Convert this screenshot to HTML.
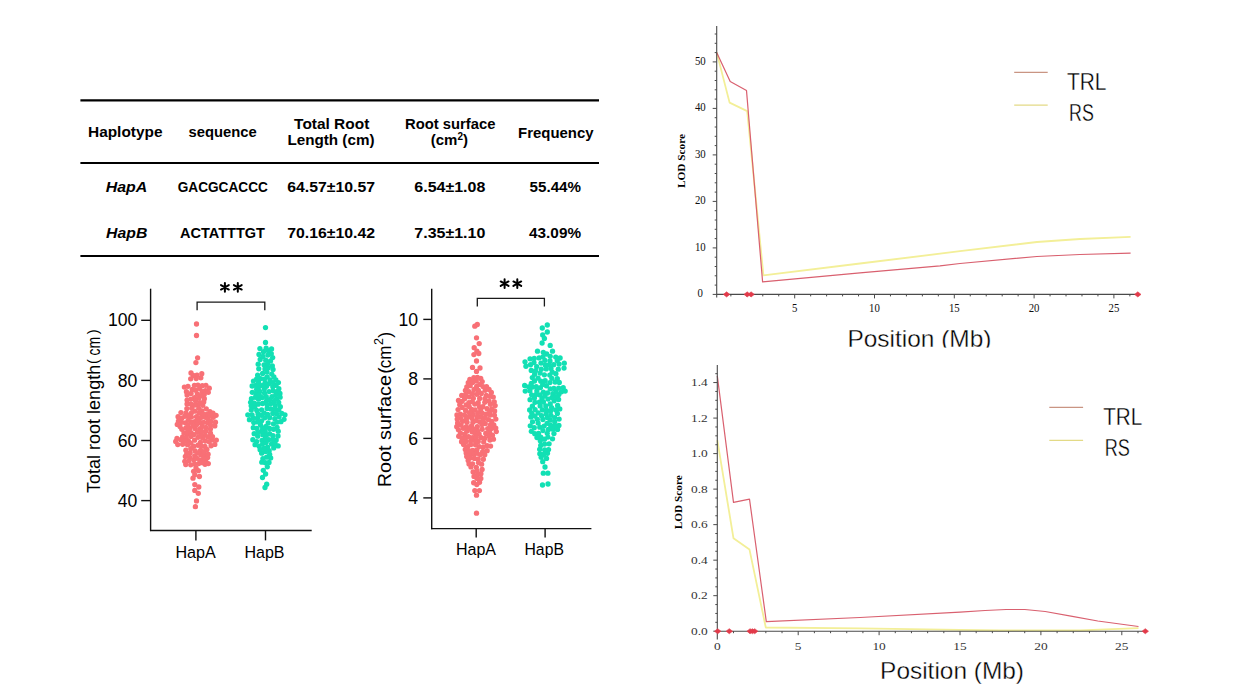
<!DOCTYPE html>
<html><head><meta charset="utf-8"><style>
html,body{margin:0;padding:0;background:#fff;}
body{width:1238px;height:690px;overflow:hidden;position:relative;}
svg{position:absolute;left:0;top:0;}
</style></head><body>
<svg width="1238" height="690" viewBox="0 0 1238 690">
<rect width="1238" height="690" fill="#fff"/>
<line x1="80.40" y1="100.40" x2="599.00" y2="100.40" stroke="#000" stroke-width="2.2" />
<line x1="80.40" y1="163.00" x2="599.00" y2="163.00" stroke="#000" stroke-width="2.2" />
<line x1="80.40" y1="256.00" x2="599.00" y2="256.00" stroke="#000" stroke-width="2.2" />
<text x="88.00" y="137.40" font-family='"Liberation Sans", sans-serif' font-size="15" font-weight="bold" font-style="normal" text-anchor="start" fill="#000" textLength="74.50" lengthAdjust="spacingAndGlyphs" >Haplotype</text>
<text x="188.50" y="137.40" font-family='"Liberation Sans", sans-serif' font-size="15" font-weight="bold" font-style="normal" text-anchor="start" fill="#000" textLength="68.20" lengthAdjust="spacingAndGlyphs" >sequence</text>
<text x="294.10" y="128.70" font-family='"Liberation Sans", sans-serif' font-size="15" font-weight="bold" font-style="normal" text-anchor="start" fill="#000" textLength="75.20" lengthAdjust="spacingAndGlyphs" >Total Root</text>
<text x="287.40" y="145.40" font-family='"Liberation Sans", sans-serif' font-size="15" font-weight="bold" font-style="normal" text-anchor="start" fill="#000" textLength="87.10" lengthAdjust="spacingAndGlyphs" >Length (cm)</text>
<text x="405.00" y="128.70" font-family='"Liberation Sans", sans-serif' font-size="15" font-weight="bold" font-style="normal" text-anchor="start" fill="#000" textLength="90.40" lengthAdjust="spacingAndGlyphs" >Root surface</text>
<text x="518.10" y="137.60" font-family='"Liberation Sans", sans-serif' font-size="15" font-weight="bold" font-style="normal" text-anchor="start" fill="#000" textLength="75.50" lengthAdjust="spacingAndGlyphs" >Frequency</text>
<text x="430.70" y="145.40" font-family='"Liberation Sans", sans-serif' font-size="15" font-weight="bold" font-style="normal" text-anchor="start" fill="#000" >(cm<tspan font-size="10" dy="-5">2</tspan><tspan dy="5">)</tspan></text>
<text x="105.70" y="191.50" font-family='"Liberation Sans", sans-serif' font-size="15" font-weight="bold" font-style="italic" text-anchor="start" fill="#000" textLength="41.60" lengthAdjust="spacingAndGlyphs" >HapA</text>
<text x="177.70" y="191.50" font-family='"Liberation Sans", sans-serif' font-size="15" font-weight="bold" font-style="normal" text-anchor="start" fill="#000" textLength="90.20" lengthAdjust="spacingAndGlyphs" >GACGCACCC</text>
<text x="287.20" y="191.50" font-family='"Liberation Sans", sans-serif' font-size="15" font-weight="bold" font-style="normal" text-anchor="start" fill="#000" textLength="87.80" lengthAdjust="spacingAndGlyphs" >64.57±10.57</text>
<text x="414.30" y="191.50" font-family='"Liberation Sans", sans-serif' font-size="15" font-weight="bold" font-style="normal" text-anchor="start" fill="#000" textLength="71.00" lengthAdjust="spacingAndGlyphs" >6.54±1.08</text>
<text x="529.60" y="191.50" font-family='"Liberation Sans", sans-serif' font-size="15" font-weight="bold" font-style="normal" text-anchor="start" fill="#000" textLength="51.40" lengthAdjust="spacingAndGlyphs" >55.44%</text>
<text x="106.10" y="238.30" font-family='"Liberation Sans", sans-serif' font-size="15" font-weight="bold" font-style="italic" text-anchor="start" fill="#000" textLength="41.20" lengthAdjust="spacingAndGlyphs" >HapB</text>
<text x="180.10" y="238.30" font-family='"Liberation Sans", sans-serif' font-size="15" font-weight="bold" font-style="normal" text-anchor="start" fill="#000" textLength="84.90" lengthAdjust="spacingAndGlyphs" >ACTATTTGT</text>
<text x="287.20" y="238.30" font-family='"Liberation Sans", sans-serif' font-size="15" font-weight="bold" font-style="normal" text-anchor="start" fill="#000" textLength="87.80" lengthAdjust="spacingAndGlyphs" >70.16±10.42</text>
<text x="414.30" y="238.30" font-family='"Liberation Sans", sans-serif' font-size="15" font-weight="bold" font-style="normal" text-anchor="start" fill="#000" textLength="71.00" lengthAdjust="spacingAndGlyphs" >7.35±1.10</text>
<text x="529.10" y="238.30" font-family='"Liberation Sans", sans-serif' font-size="15" font-weight="bold" font-style="normal" text-anchor="start" fill="#000" textLength="51.90" lengthAdjust="spacingAndGlyphs" >43.09%</text>
<line x1="150.60" y1="288.70" x2="150.60" y2="531.10" stroke="#111" stroke-width="1.4" />
<line x1="150.00" y1="530.50" x2="311.70" y2="530.50" stroke="#111" stroke-width="1.4" />
<line x1="141.20" y1="320.30" x2="150.60" y2="320.30" stroke="#111" stroke-width="1.4" />
<text x="137.30" y="326.40" font-family='"Liberation Sans", sans-serif' font-size="17.6" font-weight="normal" font-style="normal" text-anchor="end" fill="#000" >100</text>
<line x1="141.20" y1="380.40" x2="150.60" y2="380.40" stroke="#111" stroke-width="1.4" />
<text x="137.30" y="386.50" font-family='"Liberation Sans", sans-serif' font-size="17.6" font-weight="normal" font-style="normal" text-anchor="end" fill="#000" >80</text>
<line x1="141.20" y1="440.50" x2="150.60" y2="440.50" stroke="#111" stroke-width="1.4" />
<text x="137.30" y="446.60" font-family='"Liberation Sans", sans-serif' font-size="17.6" font-weight="normal" font-style="normal" text-anchor="end" fill="#000" >60</text>
<line x1="141.20" y1="500.60" x2="150.60" y2="500.60" stroke="#111" stroke-width="1.4" />
<text x="137.30" y="506.70" font-family='"Liberation Sans", sans-serif' font-size="17.6" font-weight="normal" font-style="normal" text-anchor="end" fill="#000" >40</text>
<line x1="195.90" y1="530.50" x2="195.90" y2="540.40" stroke="#111" stroke-width="1.4" />
<line x1="265.50" y1="530.50" x2="265.50" y2="540.40" stroke="#111" stroke-width="1.4" />
<text x="175.40" y="557.90" font-family='"Liberation Sans", sans-serif' font-size="16.3" font-weight="normal" font-style="normal" text-anchor="start" fill="#000" textLength="40.30" lengthAdjust="spacingAndGlyphs" >HapA</text>
<text x="244.40" y="557.90" font-family='"Liberation Sans", sans-serif' font-size="16.3" font-weight="normal" font-style="normal" text-anchor="start" fill="#000" textLength="40.10" lengthAdjust="spacingAndGlyphs" >HapB</text>
<polyline points="197.1,310.3 197.1,302.2 264.8,302.2 264.8,310.3" fill="none" stroke="#1a1a1a" stroke-width="1.3"/>
<path d="M224.9,282.90000000000003 L224.9,291.7 M221.00,285.05 L228.80,289.55 M221.00,289.55 L228.80,285.05 " stroke="#000" stroke-width="2.0" stroke-linecap="round" fill="none"/>
<path d="M237.8,282.90000000000003 L237.8,291.7 M233.90,285.05 L241.70,289.55 M233.90,289.55 L241.70,285.05 " stroke="#000" stroke-width="2.0" stroke-linecap="round" fill="none"/>
<line x1="431.70" y1="288.70" x2="431.70" y2="529.20" stroke="#111" stroke-width="1.4" />
<line x1="431.10" y1="528.60" x2="591.40" y2="528.60" stroke="#111" stroke-width="1.4" />
<line x1="423.30" y1="319.40" x2="431.70" y2="319.40" stroke="#111" stroke-width="1.4" />
<text x="418.10" y="325.50" font-family='"Liberation Sans", sans-serif' font-size="17.6" font-weight="normal" font-style="normal" text-anchor="end" fill="#000" >10</text>
<line x1="423.30" y1="378.90" x2="431.70" y2="378.90" stroke="#111" stroke-width="1.4" />
<text x="418.10" y="385.00" font-family='"Liberation Sans", sans-serif' font-size="17.6" font-weight="normal" font-style="normal" text-anchor="end" fill="#000" >8</text>
<line x1="423.30" y1="438.40" x2="431.70" y2="438.40" stroke="#111" stroke-width="1.4" />
<text x="418.10" y="444.50" font-family='"Liberation Sans", sans-serif' font-size="17.6" font-weight="normal" font-style="normal" text-anchor="end" fill="#000" >6</text>
<line x1="423.30" y1="497.90" x2="431.70" y2="497.90" stroke="#111" stroke-width="1.4" />
<text x="418.10" y="504.00" font-family='"Liberation Sans", sans-serif' font-size="17.6" font-weight="normal" font-style="normal" text-anchor="end" fill="#000" >4</text>
<line x1="476.20" y1="528.60" x2="476.20" y2="537.50" stroke="#111" stroke-width="1.4" />
<line x1="545.10" y1="528.60" x2="545.10" y2="537.50" stroke="#111" stroke-width="1.4" />
<text x="455.90" y="555.40" font-family='"Liberation Sans", sans-serif' font-size="16.3" font-weight="normal" font-style="normal" text-anchor="start" fill="#000" textLength="40.10" lengthAdjust="spacingAndGlyphs" >HapA</text>
<text x="524.50" y="555.40" font-family='"Liberation Sans", sans-serif' font-size="16.3" font-weight="normal" font-style="normal" text-anchor="start" fill="#000" textLength="39.40" lengthAdjust="spacingAndGlyphs" >HapB</text>
<polyline points="477.3,306.4 477.3,298.3 544.4,298.3 544.4,306.4" fill="none" stroke="#1a1a1a" stroke-width="1.3"/>
<path d="M504.6,279.3 L504.6,288.09999999999997 M500.70,281.45 L508.50,285.95 M500.70,285.95 L508.50,281.45 " stroke="#000" stroke-width="2.0" stroke-linecap="round" fill="none"/>
<path d="M517.3,279.3 L517.3,288.09999999999997 M513.40,281.45 L521.20,285.95 M513.40,285.95 L521.20,281.45 " stroke="#000" stroke-width="2.0" stroke-linecap="round" fill="none"/>
<g transform="translate(100.2,493.1) rotate(-90)">
<text x="0.00" y="0.00" font-family='"Liberation Sans", sans-serif' font-size="18.3" font-weight="normal" font-style="normal" text-anchor="start" fill="#000" textLength="128.30" lengthAdjust="spacingAndGlyphs" >Total root length</text>
<text x="129.00" y="-1.90" font-family='"Liberation Sans", sans-serif' font-size="14.5" font-weight="normal" font-style="normal" text-anchor="start" fill="#000" >(</text>
<text x="137.60" y="0.00" font-family='"Liberation Sans", sans-serif' font-size="18.3" font-weight="normal" font-style="normal" text-anchor="start" fill="#000" textLength="18.60" lengthAdjust="spacingAndGlyphs" >cm</text>
<text x="158.90" y="-1.90" font-family='"Liberation Sans", sans-serif' font-size="14.5" font-weight="normal" font-style="normal" text-anchor="start" fill="#000" >)</text>
</g>
<g transform="translate(390.9,487.3) rotate(-90)">
<text x="0.00" y="0.00" font-family='"Liberation Sans", sans-serif' font-size="19" font-weight="normal" font-style="normal" text-anchor="start" fill="#000" textLength="112.30" lengthAdjust="spacingAndGlyphs" >Root surface</text>
<text x="113.60" y="0.00" font-family='"Liberation Sans", sans-serif' font-size="19" font-weight="normal" font-style="normal" text-anchor="start" fill="#000" >(</text>
<text x="119.00" y="0.00" font-family='"Liberation Sans", sans-serif' font-size="19" font-weight="normal" font-style="normal" text-anchor="start" fill="#000" textLength="22.60" lengthAdjust="spacingAndGlyphs" >cm</text>
<text x="142.40" y="-7.90" font-family='"Liberation Sans", sans-serif' font-size="12.5" font-weight="normal" font-style="normal" text-anchor="start" fill="#000" >2</text>
<text x="149.60" y="-0.30" font-family='"Liberation Sans", sans-serif' font-size="17.5" font-weight="normal" font-style="normal" text-anchor="start" fill="#000" >)</text>
</g>
<circle cx="196.50" cy="324.00" r="2.65" fill="#f87076"/>
<circle cx="196.50" cy="335.50" r="2.65" fill="#f87076"/>
<circle cx="197.60" cy="357.80" r="2.65" fill="#f87076"/>
<circle cx="195.90" cy="362.60" r="2.65" fill="#f87076"/>
<circle cx="196.00" cy="467.80" r="2.65" fill="#f87076"/>
<circle cx="193.60" cy="471.30" r="2.65" fill="#f87076"/>
<circle cx="198.30" cy="470.70" r="2.65" fill="#f87076"/>
<circle cx="194.80" cy="474.80" r="2.65" fill="#f87076"/>
<circle cx="199.40" cy="476.50" r="2.65" fill="#f87076"/>
<circle cx="193.00" cy="478.20" r="2.65" fill="#f87076"/>
<circle cx="194.80" cy="484.60" r="2.65" fill="#f87076"/>
<circle cx="198.80" cy="487.00" r="2.65" fill="#f87076"/>
<circle cx="194.80" cy="490.40" r="2.65" fill="#f87076"/>
<circle cx="198.30" cy="493.30" r="2.65" fill="#f87076"/>
<circle cx="196.50" cy="500.90" r="2.65" fill="#f87076"/>
<circle cx="195.40" cy="506.70" r="2.65" fill="#f87076"/>
<circle cx="205.43" cy="390.56" r="2.65" fill="#f87076"/>
<circle cx="187.57" cy="444.68" r="2.65" fill="#f87076"/>
<circle cx="194.74" cy="421.61" r="2.65" fill="#f87076"/>
<circle cx="205.08" cy="435.04" r="2.65" fill="#f87076"/>
<circle cx="184.38" cy="387.07" r="2.65" fill="#f87076"/>
<circle cx="195.16" cy="450.88" r="2.65" fill="#f87076"/>
<circle cx="177.77" cy="444.56" r="2.65" fill="#f87076"/>
<circle cx="205.32" cy="417.30" r="2.65" fill="#f87076"/>
<circle cx="204.33" cy="398.67" r="2.65" fill="#f87076"/>
<circle cx="185.37" cy="456.52" r="2.65" fill="#f87076"/>
<circle cx="196.98" cy="375.19" r="2.65" fill="#f87076"/>
<circle cx="193.68" cy="459.77" r="2.65" fill="#f87076"/>
<circle cx="194.54" cy="397.63" r="2.65" fill="#f87076"/>
<circle cx="193.24" cy="375.50" r="2.65" fill="#f87076"/>
<circle cx="196.54" cy="416.66" r="2.65" fill="#f87076"/>
<circle cx="190.97" cy="399.05" r="2.65" fill="#f87076"/>
<circle cx="187.05" cy="403.92" r="2.65" fill="#f87076"/>
<circle cx="187.17" cy="434.24" r="2.65" fill="#f87076"/>
<circle cx="205.03" cy="464.36" r="2.65" fill="#f87076"/>
<circle cx="192.20" cy="389.40" r="2.65" fill="#f87076"/>
<circle cx="205.31" cy="441.05" r="2.65" fill="#f87076"/>
<circle cx="200.53" cy="450.38" r="2.65" fill="#f87076"/>
<circle cx="197.64" cy="405.09" r="2.65" fill="#f87076"/>
<circle cx="204.70" cy="454.89" r="2.65" fill="#f87076"/>
<circle cx="200.16" cy="422.45" r="2.65" fill="#f87076"/>
<circle cx="197.36" cy="393.88" r="2.65" fill="#f87076"/>
<circle cx="194.88" cy="411.22" r="2.65" fill="#f87076"/>
<circle cx="207.53" cy="422.72" r="2.65" fill="#f87076"/>
<circle cx="178.40" cy="421.11" r="2.65" fill="#f87076"/>
<circle cx="198.71" cy="463.55" r="2.65" fill="#f87076"/>
<circle cx="185.95" cy="412.85" r="2.65" fill="#f87076"/>
<circle cx="215.45" cy="422.19" r="2.65" fill="#f87076"/>
<circle cx="198.01" cy="445.26" r="2.65" fill="#f87076"/>
<circle cx="190.16" cy="452.98" r="2.65" fill="#f87076"/>
<circle cx="195.21" cy="428.69" r="2.65" fill="#f87076"/>
<circle cx="184.79" cy="461.31" r="2.65" fill="#f87076"/>
<circle cx="204.89" cy="446.39" r="2.65" fill="#f87076"/>
<circle cx="200.83" cy="377.83" r="2.65" fill="#f87076"/>
<circle cx="185.89" cy="428.02" r="2.65" fill="#f87076"/>
<circle cx="182.64" cy="436.89" r="2.65" fill="#f87076"/>
<circle cx="199.71" cy="388.42" r="2.65" fill="#f87076"/>
<circle cx="186.87" cy="408.62" r="2.65" fill="#f87076"/>
<circle cx="191.06" cy="393.46" r="2.65" fill="#f87076"/>
<circle cx="194.61" cy="440.20" r="2.65" fill="#f87076"/>
<circle cx="185.38" cy="422.87" r="2.65" fill="#f87076"/>
<circle cx="205.92" cy="431.09" r="2.65" fill="#f87076"/>
<circle cx="202.12" cy="391.60" r="2.65" fill="#f87076"/>
<circle cx="198.06" cy="437.32" r="2.65" fill="#f87076"/>
<circle cx="198.78" cy="398.19" r="2.65" fill="#f87076"/>
<circle cx="199.10" cy="412.96" r="2.65" fill="#f87076"/>
<circle cx="202.70" cy="405.35" r="2.65" fill="#f87076"/>
<circle cx="206.93" cy="449.47" r="2.65" fill="#f87076"/>
<circle cx="184.80" cy="416.23" r="2.65" fill="#f87076"/>
<circle cx="207.88" cy="437.00" r="2.65" fill="#f87076"/>
<circle cx="200.93" cy="454.89" r="2.65" fill="#f87076"/>
<circle cx="188.01" cy="386.28" r="2.65" fill="#f87076"/>
<circle cx="189.70" cy="457.34" r="2.65" fill="#f87076"/>
<circle cx="191.79" cy="408.26" r="2.65" fill="#f87076"/>
<circle cx="205.68" cy="461.07" r="2.65" fill="#f87076"/>
<circle cx="205.91" cy="385.29" r="2.65" fill="#f87076"/>
<circle cx="198.78" cy="408.32" r="2.65" fill="#f87076"/>
<circle cx="193.70" cy="446.24" r="2.65" fill="#f87076"/>
<circle cx="185.86" cy="450.19" r="2.65" fill="#f87076"/>
<circle cx="194.63" cy="463.98" r="2.65" fill="#f87076"/>
<circle cx="209.90" cy="411.53" r="2.65" fill="#f87076"/>
<circle cx="195.57" cy="400.79" r="2.65" fill="#f87076"/>
<circle cx="207.63" cy="457.55" r="2.65" fill="#f87076"/>
<circle cx="202.72" cy="438.18" r="2.65" fill="#f87076"/>
<circle cx="200.76" cy="435.07" r="2.65" fill="#f87076"/>
<circle cx="199.79" cy="428.79" r="2.65" fill="#f87076"/>
<circle cx="187.03" cy="400.08" r="2.65" fill="#f87076"/>
<circle cx="180.01" cy="426.40" r="2.65" fill="#f87076"/>
<circle cx="210.81" cy="421.42" r="2.65" fill="#f87076"/>
<circle cx="188.76" cy="460.63" r="2.65" fill="#f87076"/>
<circle cx="211.06" cy="445.75" r="2.65" fill="#f87076"/>
<circle cx="191.31" cy="413.03" r="2.65" fill="#f87076"/>
<circle cx="194.03" cy="434.59" r="2.65" fill="#f87076"/>
<circle cx="196.73" cy="424.47" r="2.65" fill="#f87076"/>
<circle cx="201.90" cy="410.96" r="2.65" fill="#f87076"/>
<circle cx="200.44" cy="442.33" r="2.65" fill="#f87076"/>
<circle cx="203.72" cy="402.01" r="2.65" fill="#f87076"/>
<circle cx="213.21" cy="417.28" r="2.65" fill="#f87076"/>
<circle cx="178.07" cy="416.73" r="2.65" fill="#f87076"/>
<circle cx="214.79" cy="425.89" r="2.65" fill="#f87076"/>
<circle cx="214.82" cy="444.45" r="2.65" fill="#f87076"/>
<circle cx="189.99" cy="428.24" r="2.65" fill="#f87076"/>
<circle cx="191.13" cy="422.26" r="2.65" fill="#f87076"/>
<circle cx="177.28" cy="424.44" r="2.65" fill="#f87076"/>
<circle cx="194.12" cy="405.21" r="2.65" fill="#f87076"/>
<circle cx="201.53" cy="446.35" r="2.65" fill="#f87076"/>
<circle cx="197.42" cy="432.32" r="2.65" fill="#f87076"/>
<circle cx="212.09" cy="439.89" r="2.65" fill="#f87076"/>
<circle cx="191.05" cy="432.53" r="2.65" fill="#f87076"/>
<circle cx="188.39" cy="440.79" r="2.65" fill="#f87076"/>
<circle cx="187.07" cy="395.06" r="2.65" fill="#f87076"/>
<circle cx="185.75" cy="464.52" r="2.65" fill="#f87076"/>
<circle cx="210.42" cy="428.90" r="2.65" fill="#f87076"/>
<circle cx="182.61" cy="444.24" r="2.65" fill="#f87076"/>
<circle cx="195.55" cy="390.18" r="2.65" fill="#f87076"/>
<circle cx="210.45" cy="433.27" r="2.65" fill="#f87076"/>
<circle cx="203.64" cy="458.32" r="2.65" fill="#f87076"/>
<circle cx="190.73" cy="443.21" r="2.65" fill="#f87076"/>
<circle cx="199.90" cy="460.04" r="2.65" fill="#f87076"/>
<circle cx="194.73" cy="455.78" r="2.65" fill="#f87076"/>
<circle cx="190.73" cy="464.84" r="2.65" fill="#f87076"/>
<circle cx="181.87" cy="429.28" r="2.65" fill="#f87076"/>
<circle cx="176.96" cy="438.45" r="2.65" fill="#f87076"/>
<circle cx="208.21" cy="418.94" r="2.65" fill="#f87076"/>
<circle cx="181.78" cy="418.23" r="2.65" fill="#f87076"/>
<circle cx="206.26" cy="408.82" r="2.65" fill="#f87076"/>
<circle cx="199.86" cy="402.61" r="2.65" fill="#f87076"/>
<circle cx="204.22" cy="394.58" r="2.65" fill="#f87076"/>
<circle cx="186.30" cy="437.89" r="2.65" fill="#f87076"/>
<circle cx="202.28" cy="385.65" r="2.65" fill="#f87076"/>
<circle cx="201.79" cy="373.70" r="2.65" fill="#f87076"/>
<circle cx="216.32" cy="440.10" r="2.65" fill="#f87076"/>
<circle cx="208.28" cy="392.37" r="2.65" fill="#f87076"/>
<circle cx="180.96" cy="412.61" r="2.65" fill="#f87076"/>
<circle cx="183.94" cy="432.78" r="2.65" fill="#f87076"/>
<circle cx="212.93" cy="413.08" r="2.65" fill="#f87076"/>
<circle cx="202.05" cy="426.38" r="2.65" fill="#f87076"/>
<circle cx="186.42" cy="391.75" r="2.65" fill="#f87076"/>
<circle cx="191.41" cy="417.03" r="2.65" fill="#f87076"/>
<circle cx="184.81" cy="441.20" r="2.65" fill="#f87076"/>
<circle cx="194.45" cy="385.37" r="2.65" fill="#f87076"/>
<circle cx="190.69" cy="378.87" r="2.65" fill="#f87076"/>
<circle cx="201.79" cy="431.43" r="2.65" fill="#f87076"/>
<circle cx="205.83" cy="427.35" r="2.65" fill="#f87076"/>
<circle cx="190.73" cy="448.74" r="2.65" fill="#f87076"/>
<circle cx="190.85" cy="403.82" r="2.65" fill="#f87076"/>
<circle cx="196.21" cy="378.58" r="2.65" fill="#f87076"/>
<circle cx="193.20" cy="425.86" r="2.65" fill="#f87076"/>
<circle cx="209.29" cy="388.19" r="2.65" fill="#f87076"/>
<circle cx="201.02" cy="417.47" r="2.65" fill="#f87076"/>
<circle cx="186.78" cy="453.44" r="2.65" fill="#f87076"/>
<circle cx="188.10" cy="424.86" r="2.65" fill="#f87076"/>
<circle cx="209.17" cy="441.71" r="2.65" fill="#f87076"/>
<circle cx="191.00" cy="436.47" r="2.65" fill="#f87076"/>
<circle cx="207.08" cy="414.27" r="2.65" fill="#f87076"/>
<circle cx="180.78" cy="439.66" r="2.65" fill="#f87076"/>
<circle cx="203.70" cy="422.31" r="2.65" fill="#f87076"/>
<circle cx="212.47" cy="436.59" r="2.65" fill="#f87076"/>
<circle cx="188.23" cy="420.04" r="2.65" fill="#f87076"/>
<circle cx="191.00" cy="373.02" r="2.65" fill="#f87076"/>
<circle cx="197.65" cy="453.07" r="2.65" fill="#f87076"/>
<circle cx="203.98" cy="451.62" r="2.65" fill="#f87076"/>
<circle cx="196.94" cy="458.28" r="2.65" fill="#f87076"/>
<circle cx="201.03" cy="395.56" r="2.65" fill="#f87076"/>
<circle cx="203.15" cy="414.11" r="2.65" fill="#f87076"/>
<circle cx="208.08" cy="454.22" r="2.65" fill="#f87076"/>
<circle cx="197.89" cy="385.11" r="2.65" fill="#f87076"/>
<circle cx="210.43" cy="415.32" r="2.65" fill="#f87076"/>
<circle cx="208.30" cy="463.60" r="2.65" fill="#f87076"/>
<circle cx="175.72" cy="441.52" r="2.65" fill="#f87076"/>
<circle cx="210.53" cy="425.14" r="2.65" fill="#f87076"/>
<circle cx="188.05" cy="430.92" r="2.65" fill="#f87076"/>
<circle cx="188.25" cy="415.56" r="2.65" fill="#f87076"/>
<circle cx="181.69" cy="422.29" r="2.65" fill="#f87076"/>
<circle cx="197.51" cy="419.82" r="2.65" fill="#f87076"/>
<circle cx="216.07" cy="415.33" r="2.65" fill="#f87076"/>
<circle cx="202.19" cy="462.66" r="2.65" fill="#f87076"/>
<circle cx="265.50" cy="327.60" r="2.65" fill="#12e0b4"/>
<circle cx="265.50" cy="342.50" r="2.65" fill="#12e0b4"/>
<circle cx="263.30" cy="470.30" r="2.65" fill="#12e0b4"/>
<circle cx="267.30" cy="466.80" r="2.65" fill="#12e0b4"/>
<circle cx="265.60" cy="474.00" r="2.65" fill="#12e0b4"/>
<circle cx="262.50" cy="477.50" r="2.65" fill="#12e0b4"/>
<circle cx="266.70" cy="484.20" r="2.65" fill="#12e0b4"/>
<circle cx="265.00" cy="487.50" r="2.65" fill="#12e0b4"/>
<circle cx="270.65" cy="457.94" r="2.65" fill="#12e0b4"/>
<circle cx="259.00" cy="354.50" r="2.65" fill="#12e0b4"/>
<circle cx="271.56" cy="444.08" r="2.65" fill="#12e0b4"/>
<circle cx="260.57" cy="425.02" r="2.65" fill="#12e0b4"/>
<circle cx="269.66" cy="417.68" r="2.65" fill="#12e0b4"/>
<circle cx="252.06" cy="414.84" r="2.65" fill="#12e0b4"/>
<circle cx="262.29" cy="397.53" r="2.65" fill="#12e0b4"/>
<circle cx="278.22" cy="431.15" r="2.65" fill="#12e0b4"/>
<circle cx="266.63" cy="457.18" r="2.65" fill="#12e0b4"/>
<circle cx="258.53" cy="399.16" r="2.65" fill="#12e0b4"/>
<circle cx="276.74" cy="391.70" r="2.65" fill="#12e0b4"/>
<circle cx="267.13" cy="408.46" r="2.65" fill="#12e0b4"/>
<circle cx="257.65" cy="375.15" r="2.65" fill="#12e0b4"/>
<circle cx="255.78" cy="385.39" r="2.65" fill="#12e0b4"/>
<circle cx="280.31" cy="406.68" r="2.65" fill="#12e0b4"/>
<circle cx="269.17" cy="450.76" r="2.65" fill="#12e0b4"/>
<circle cx="272.95" cy="435.73" r="2.65" fill="#12e0b4"/>
<circle cx="278.85" cy="388.69" r="2.65" fill="#12e0b4"/>
<circle cx="262.90" cy="458.62" r="2.65" fill="#12e0b4"/>
<circle cx="266.32" cy="401.06" r="2.65" fill="#12e0b4"/>
<circle cx="275.30" cy="405.60" r="2.65" fill="#12e0b4"/>
<circle cx="265.63" cy="451.47" r="2.65" fill="#12e0b4"/>
<circle cx="281.74" cy="413.29" r="2.65" fill="#12e0b4"/>
<circle cx="265.16" cy="431.23" r="2.65" fill="#12e0b4"/>
<circle cx="262.62" cy="373.51" r="2.65" fill="#12e0b4"/>
<circle cx="256.92" cy="428.45" r="2.65" fill="#12e0b4"/>
<circle cx="268.20" cy="422.91" r="2.65" fill="#12e0b4"/>
<circle cx="249.45" cy="419.68" r="2.65" fill="#12e0b4"/>
<circle cx="254.16" cy="433.65" r="2.65" fill="#12e0b4"/>
<circle cx="271.74" cy="374.06" r="2.65" fill="#12e0b4"/>
<circle cx="265.72" cy="360.22" r="2.65" fill="#12e0b4"/>
<circle cx="259.16" cy="446.20" r="2.65" fill="#12e0b4"/>
<circle cx="271.93" cy="396.64" r="2.65" fill="#12e0b4"/>
<circle cx="263.52" cy="351.67" r="2.65" fill="#12e0b4"/>
<circle cx="268.28" cy="367.77" r="2.65" fill="#12e0b4"/>
<circle cx="272.66" cy="357.53" r="2.65" fill="#12e0b4"/>
<circle cx="268.48" cy="350.91" r="2.65" fill="#12e0b4"/>
<circle cx="256.69" cy="441.54" r="2.65" fill="#12e0b4"/>
<circle cx="252.31" cy="392.34" r="2.65" fill="#12e0b4"/>
<circle cx="274.77" cy="418.75" r="2.65" fill="#12e0b4"/>
<circle cx="261.36" cy="415.27" r="2.65" fill="#12e0b4"/>
<circle cx="254.62" cy="407.20" r="2.65" fill="#12e0b4"/>
<circle cx="258.18" cy="364.17" r="2.65" fill="#12e0b4"/>
<circle cx="267.17" cy="376.84" r="2.65" fill="#12e0b4"/>
<circle cx="266.26" cy="396.65" r="2.65" fill="#12e0b4"/>
<circle cx="259.91" cy="348.55" r="2.65" fill="#12e0b4"/>
<circle cx="260.19" cy="359.47" r="2.65" fill="#12e0b4"/>
<circle cx="269.21" cy="383.62" r="2.65" fill="#12e0b4"/>
<circle cx="247.82" cy="414.82" r="2.65" fill="#12e0b4"/>
<circle cx="258.79" cy="368.84" r="2.65" fill="#12e0b4"/>
<circle cx="262.06" cy="440.31" r="2.65" fill="#12e0b4"/>
<circle cx="257.46" cy="418.21" r="2.65" fill="#12e0b4"/>
<circle cx="266.96" cy="371.95" r="2.65" fill="#12e0b4"/>
<circle cx="264.43" cy="393.05" r="2.65" fill="#12e0b4"/>
<circle cx="262.80" cy="434.66" r="2.65" fill="#12e0b4"/>
<circle cx="280.94" cy="421.71" r="2.65" fill="#12e0b4"/>
<circle cx="253.28" cy="427.66" r="2.65" fill="#12e0b4"/>
<circle cx="273.42" cy="423.80" r="2.65" fill="#12e0b4"/>
<circle cx="264.30" cy="389.12" r="2.65" fill="#12e0b4"/>
<circle cx="258.59" cy="382.13" r="2.65" fill="#12e0b4"/>
<circle cx="258.16" cy="404.21" r="2.65" fill="#12e0b4"/>
<circle cx="264.05" cy="364.85" r="2.65" fill="#12e0b4"/>
<circle cx="253.75" cy="422.53" r="2.65" fill="#12e0b4"/>
<circle cx="269.01" cy="462.44" r="2.65" fill="#12e0b4"/>
<circle cx="251.42" cy="398.74" r="2.65" fill="#12e0b4"/>
<circle cx="262.53" cy="403.48" r="2.65" fill="#12e0b4"/>
<circle cx="269.57" cy="433.75" r="2.65" fill="#12e0b4"/>
<circle cx="257.78" cy="436.21" r="2.65" fill="#12e0b4"/>
<circle cx="264.29" cy="413.10" r="2.65" fill="#12e0b4"/>
<circle cx="270.61" cy="403.78" r="2.65" fill="#12e0b4"/>
<circle cx="259.19" cy="386.51" r="2.65" fill="#12e0b4"/>
<circle cx="251.17" cy="405.83" r="2.65" fill="#12e0b4"/>
<circle cx="261.61" cy="409.87" r="2.65" fill="#12e0b4"/>
<circle cx="276.49" cy="398.92" r="2.65" fill="#12e0b4"/>
<circle cx="261.69" cy="453.19" r="2.65" fill="#12e0b4"/>
<circle cx="255.04" cy="444.68" r="2.65" fill="#12e0b4"/>
<circle cx="261.61" cy="420.83" r="2.65" fill="#12e0b4"/>
<circle cx="268.81" cy="439.75" r="2.65" fill="#12e0b4"/>
<circle cx="275.83" cy="379.91" r="2.65" fill="#12e0b4"/>
<circle cx="270.53" cy="360.88" r="2.65" fill="#12e0b4"/>
<circle cx="277.03" cy="427.35" r="2.65" fill="#12e0b4"/>
<circle cx="273.72" cy="447.97" r="2.65" fill="#12e0b4"/>
<circle cx="256.00" cy="393.45" r="2.65" fill="#12e0b4"/>
<circle cx="273.04" cy="369.44" r="2.65" fill="#12e0b4"/>
<circle cx="256.73" cy="410.41" r="2.65" fill="#12e0b4"/>
<circle cx="262.67" cy="443.86" r="2.65" fill="#12e0b4"/>
<circle cx="273.11" cy="390.87" r="2.65" fill="#12e0b4"/>
<circle cx="272.79" cy="386.87" r="2.65" fill="#12e0b4"/>
<circle cx="265.33" cy="462.70" r="2.65" fill="#12e0b4"/>
<circle cx="252.88" cy="439.76" r="2.65" fill="#12e0b4"/>
<circle cx="271.28" cy="353.72" r="2.65" fill="#12e0b4"/>
<circle cx="266.09" cy="442.54" r="2.65" fill="#12e0b4"/>
<circle cx="269.02" cy="391.60" r="2.65" fill="#12e0b4"/>
<circle cx="259.71" cy="391.39" r="2.65" fill="#12e0b4"/>
<circle cx="278.01" cy="436.02" r="2.65" fill="#12e0b4"/>
<circle cx="269.57" cy="428.39" r="2.65" fill="#12e0b4"/>
<circle cx="266.53" cy="386.32" r="2.65" fill="#12e0b4"/>
<circle cx="258.02" cy="413.93" r="2.65" fill="#12e0b4"/>
<circle cx="261.46" cy="431.28" r="2.65" fill="#12e0b4"/>
<circle cx="276.19" cy="440.09" r="2.65" fill="#12e0b4"/>
<circle cx="267.91" cy="355.12" r="2.65" fill="#12e0b4"/>
<circle cx="275.02" cy="409.25" r="2.65" fill="#12e0b4"/>
<circle cx="254.29" cy="403.03" r="2.65" fill="#12e0b4"/>
<circle cx="278.69" cy="402.42" r="2.65" fill="#12e0b4"/>
<circle cx="272.79" cy="413.43" r="2.65" fill="#12e0b4"/>
<circle cx="267.50" cy="447.23" r="2.65" fill="#12e0b4"/>
<circle cx="256.52" cy="389.61" r="2.65" fill="#12e0b4"/>
<circle cx="269.65" cy="454.37" r="2.65" fill="#12e0b4"/>
<circle cx="276.86" cy="422.18" r="2.65" fill="#12e0b4"/>
<circle cx="272.32" cy="365.87" r="2.65" fill="#12e0b4"/>
<circle cx="260.53" cy="378.62" r="2.65" fill="#12e0b4"/>
<circle cx="264.76" cy="417.81" r="2.65" fill="#12e0b4"/>
<circle cx="278.17" cy="445.97" r="2.65" fill="#12e0b4"/>
<circle cx="263.74" cy="448.39" r="2.65" fill="#12e0b4"/>
<circle cx="269.99" cy="379.80" r="2.65" fill="#12e0b4"/>
<circle cx="267.69" cy="363.64" r="2.65" fill="#12e0b4"/>
<circle cx="253.46" cy="381.08" r="2.65" fill="#12e0b4"/>
<circle cx="273.94" cy="401.52" r="2.65" fill="#12e0b4"/>
<circle cx="252.13" cy="386.00" r="2.65" fill="#12e0b4"/>
<circle cx="279.95" cy="393.44" r="2.65" fill="#12e0b4"/>
<circle cx="273.58" cy="429.23" r="2.65" fill="#12e0b4"/>
<circle cx="265.14" cy="382.69" r="2.65" fill="#12e0b4"/>
<circle cx="266.09" cy="426.42" r="2.65" fill="#12e0b4"/>
<circle cx="270.80" cy="408.95" r="2.65" fill="#12e0b4"/>
<circle cx="266.34" cy="435.21" r="2.65" fill="#12e0b4"/>
<circle cx="251.27" cy="410.08" r="2.65" fill="#12e0b4"/>
<circle cx="264.94" cy="369.00" r="2.65" fill="#12e0b4"/>
<circle cx="276.00" cy="385.30" r="2.65" fill="#12e0b4"/>
<circle cx="267.58" cy="414.47" r="2.65" fill="#12e0b4"/>
<circle cx="263.00" cy="356.46" r="2.65" fill="#12e0b4"/>
<circle cx="278.76" cy="409.90" r="2.65" fill="#12e0b4"/>
<circle cx="259.32" cy="395.17" r="2.65" fill="#12e0b4"/>
<circle cx="256.53" cy="379.07" r="2.65" fill="#12e0b4"/>
<circle cx="276.48" cy="413.73" r="2.65" fill="#12e0b4"/>
<circle cx="266.16" cy="348.13" r="2.65" fill="#12e0b4"/>
<circle cx="272.60" cy="439.55" r="2.65" fill="#12e0b4"/>
<circle cx="264.43" cy="379.12" r="2.65" fill="#12e0b4"/>
<circle cx="284.02" cy="419.37" r="2.65" fill="#12e0b4"/>
<circle cx="284.96" cy="414.79" r="2.65" fill="#12e0b4"/>
<circle cx="279.06" cy="416.79" r="2.65" fill="#12e0b4"/>
<circle cx="257.85" cy="432.53" r="2.65" fill="#12e0b4"/>
<circle cx="271.56" cy="348.96" r="2.65" fill="#12e0b4"/>
<circle cx="257.53" cy="421.97" r="2.65" fill="#12e0b4"/>
<circle cx="262.68" cy="427.88" r="2.65" fill="#12e0b4"/>
<circle cx="253.41" cy="418.13" r="2.65" fill="#12e0b4"/>
<circle cx="275.65" cy="395.11" r="2.65" fill="#12e0b4"/>
<circle cx="267.12" cy="404.79" r="2.65" fill="#12e0b4"/>
<circle cx="280.09" cy="397.15" r="2.65" fill="#12e0b4"/>
<circle cx="269.77" cy="399.63" r="2.65" fill="#12e0b4"/>
<circle cx="272.96" cy="382.56" r="2.65" fill="#12e0b4"/>
<circle cx="273.88" cy="376.92" r="2.65" fill="#12e0b4"/>
<circle cx="261.80" cy="462.19" r="2.65" fill="#12e0b4"/>
<circle cx="255.10" cy="397.30" r="2.65" fill="#12e0b4"/>
<circle cx="250.60" cy="402.30" r="2.65" fill="#12e0b4"/>
<circle cx="278.41" cy="382.62" r="2.65" fill="#12e0b4"/>
<circle cx="260.12" cy="449.73" r="2.65" fill="#12e0b4"/>
<circle cx="262.59" cy="385.46" r="2.65" fill="#12e0b4"/>
<circle cx="275.14" cy="444.02" r="2.65" fill="#12e0b4"/>
<circle cx="265.29" cy="438.75" r="2.65" fill="#12e0b4"/>
<circle cx="474.80" cy="326.20" r="2.65" fill="#f87076"/>
<circle cx="477.30" cy="324.50" r="2.65" fill="#f87076"/>
<circle cx="476.50" cy="337.80" r="2.65" fill="#f87076"/>
<circle cx="479.20" cy="343.60" r="2.65" fill="#f87076"/>
<circle cx="474.20" cy="347.70" r="2.65" fill="#f87076"/>
<circle cx="476.90" cy="351.20" r="2.65" fill="#f87076"/>
<circle cx="478.80" cy="353.50" r="2.65" fill="#f87076"/>
<circle cx="473.90" cy="354.60" r="2.65" fill="#f87076"/>
<circle cx="476.50" cy="361.00" r="2.65" fill="#f87076"/>
<circle cx="472.50" cy="367.40" r="2.65" fill="#f87076"/>
<circle cx="480.00" cy="368.00" r="2.65" fill="#f87076"/>
<circle cx="476.50" cy="371.40" r="2.65" fill="#f87076"/>
<circle cx="474.80" cy="490.60" r="2.65" fill="#f87076"/>
<circle cx="479.40" cy="490.60" r="2.65" fill="#f87076"/>
<circle cx="476.50" cy="495.20" r="2.65" fill="#f87076"/>
<circle cx="476.50" cy="513.20" r="2.65" fill="#f87076"/>
<circle cx="478.19" cy="402.70" r="2.65" fill="#f87076"/>
<circle cx="480.63" cy="416.96" r="2.65" fill="#f87076"/>
<circle cx="463.62" cy="444.58" r="2.65" fill="#f87076"/>
<circle cx="480.73" cy="378.42" r="2.65" fill="#f87076"/>
<circle cx="466.26" cy="405.01" r="2.65" fill="#f87076"/>
<circle cx="476.79" cy="484.53" r="2.65" fill="#f87076"/>
<circle cx="476.35" cy="467.34" r="2.65" fill="#f87076"/>
<circle cx="487.12" cy="445.56" r="2.65" fill="#f87076"/>
<circle cx="485.79" cy="433.50" r="2.65" fill="#f87076"/>
<circle cx="465.30" cy="449.51" r="2.65" fill="#f87076"/>
<circle cx="478.20" cy="458.89" r="2.65" fill="#f87076"/>
<circle cx="458.07" cy="409.54" r="2.65" fill="#f87076"/>
<circle cx="484.75" cy="454.63" r="2.65" fill="#f87076"/>
<circle cx="488.45" cy="419.66" r="2.65" fill="#f87076"/>
<circle cx="493.79" cy="425.02" r="2.65" fill="#f87076"/>
<circle cx="473.11" cy="471.92" r="2.65" fill="#f87076"/>
<circle cx="468.98" cy="391.68" r="2.65" fill="#f87076"/>
<circle cx="470.62" cy="444.68" r="2.65" fill="#f87076"/>
<circle cx="471.97" cy="431.78" r="2.65" fill="#f87076"/>
<circle cx="489.93" cy="440.10" r="2.65" fill="#f87076"/>
<circle cx="487.13" cy="450.65" r="2.65" fill="#f87076"/>
<circle cx="482.09" cy="469.49" r="2.65" fill="#f87076"/>
<circle cx="477.44" cy="474.71" r="2.65" fill="#f87076"/>
<circle cx="470.09" cy="454.09" r="2.65" fill="#f87076"/>
<circle cx="483.04" cy="386.56" r="2.65" fill="#f87076"/>
<circle cx="462.64" cy="421.33" r="2.65" fill="#f87076"/>
<circle cx="487.03" cy="408.74" r="2.65" fill="#f87076"/>
<circle cx="496.29" cy="431.59" r="2.65" fill="#f87076"/>
<circle cx="461.56" cy="441.77" r="2.65" fill="#f87076"/>
<circle cx="473.31" cy="398.32" r="2.65" fill="#f87076"/>
<circle cx="482.20" cy="381.58" r="2.65" fill="#f87076"/>
<circle cx="494.62" cy="410.89" r="2.65" fill="#f87076"/>
<circle cx="477.30" cy="426.72" r="2.65" fill="#f87076"/>
<circle cx="479.18" cy="446.54" r="2.65" fill="#f87076"/>
<circle cx="480.75" cy="437.40" r="2.65" fill="#f87076"/>
<circle cx="476.96" cy="478.59" r="2.65" fill="#f87076"/>
<circle cx="485.25" cy="423.57" r="2.65" fill="#f87076"/>
<circle cx="468.91" cy="402.66" r="2.65" fill="#f87076"/>
<circle cx="458.76" cy="436.23" r="2.65" fill="#f87076"/>
<circle cx="479.67" cy="421.84" r="2.65" fill="#f87076"/>
<circle cx="475.50" cy="444.75" r="2.65" fill="#f87076"/>
<circle cx="472.81" cy="450.36" r="2.65" fill="#f87076"/>
<circle cx="469.84" cy="379.40" r="2.65" fill="#f87076"/>
<circle cx="474.82" cy="404.12" r="2.65" fill="#f87076"/>
<circle cx="470.65" cy="441.01" r="2.65" fill="#f87076"/>
<circle cx="469.06" cy="416.31" r="2.65" fill="#f87076"/>
<circle cx="471.68" cy="409.44" r="2.65" fill="#f87076"/>
<circle cx="468.18" cy="460.41" r="2.65" fill="#f87076"/>
<circle cx="484.62" cy="438.48" r="2.65" fill="#f87076"/>
<circle cx="465.55" cy="410.48" r="2.65" fill="#f87076"/>
<circle cx="472.58" cy="463.81" r="2.65" fill="#f87076"/>
<circle cx="482.46" cy="413.36" r="2.65" fill="#f87076"/>
<circle cx="462.13" cy="401.30" r="2.65" fill="#f87076"/>
<circle cx="464.77" cy="434.20" r="2.65" fill="#f87076"/>
<circle cx="481.57" cy="464.13" r="2.65" fill="#f87076"/>
<circle cx="469.14" cy="396.83" r="2.65" fill="#f87076"/>
<circle cx="473.20" cy="414.41" r="2.65" fill="#f87076"/>
<circle cx="472.91" cy="422.34" r="2.65" fill="#f87076"/>
<circle cx="474.02" cy="476.43" r="2.65" fill="#f87076"/>
<circle cx="490.39" cy="404.27" r="2.65" fill="#f87076"/>
<circle cx="487.71" cy="428.54" r="2.65" fill="#f87076"/>
<circle cx="464.48" cy="415.00" r="2.65" fill="#f87076"/>
<circle cx="486.30" cy="395.50" r="2.65" fill="#f87076"/>
<circle cx="472.60" cy="382.39" r="2.65" fill="#f87076"/>
<circle cx="465.43" cy="390.46" r="2.65" fill="#f87076"/>
<circle cx="479.51" cy="482.27" r="2.65" fill="#f87076"/>
<circle cx="476.69" cy="386.30" r="2.65" fill="#f87076"/>
<circle cx="478.37" cy="390.37" r="2.65" fill="#f87076"/>
<circle cx="473.86" cy="454.33" r="2.65" fill="#f87076"/>
<circle cx="470.19" cy="385.63" r="2.65" fill="#f87076"/>
<circle cx="466.38" cy="426.77" r="2.65" fill="#f87076"/>
<circle cx="485.15" cy="390.30" r="2.65" fill="#f87076"/>
<circle cx="474.47" cy="458.38" r="2.65" fill="#f87076"/>
<circle cx="482.65" cy="451.61" r="2.65" fill="#f87076"/>
<circle cx="476.94" cy="449.78" r="2.65" fill="#f87076"/>
<circle cx="482.18" cy="429.24" r="2.65" fill="#f87076"/>
<circle cx="479.68" cy="398.51" r="2.65" fill="#f87076"/>
<circle cx="458.48" cy="400.50" r="2.65" fill="#f87076"/>
<circle cx="491.35" cy="392.51" r="2.65" fill="#f87076"/>
<circle cx="484.79" cy="402.36" r="2.65" fill="#f87076"/>
<circle cx="473.87" cy="377.74" r="2.65" fill="#f87076"/>
<circle cx="482.92" cy="406.67" r="2.65" fill="#f87076"/>
<circle cx="480.40" cy="454.55" r="2.65" fill="#f87076"/>
<circle cx="465.44" cy="438.17" r="2.65" fill="#f87076"/>
<circle cx="489.82" cy="396.34" r="2.65" fill="#f87076"/>
<circle cx="478.26" cy="441.52" r="2.65" fill="#f87076"/>
<circle cx="490.27" cy="415.11" r="2.65" fill="#f87076"/>
<circle cx="479.11" cy="433.98" r="2.65" fill="#f87076"/>
<circle cx="483.70" cy="441.95" r="2.65" fill="#f87076"/>
<circle cx="474.98" cy="433.55" r="2.65" fill="#f87076"/>
<circle cx="476.29" cy="381.00" r="2.65" fill="#f87076"/>
<circle cx="478.47" cy="462.58" r="2.65" fill="#f87076"/>
<circle cx="492.46" cy="435.20" r="2.65" fill="#f87076"/>
<circle cx="476.76" cy="394.37" r="2.65" fill="#f87076"/>
<circle cx="475.10" cy="409.90" r="2.65" fill="#f87076"/>
<circle cx="466.18" cy="452.97" r="2.65" fill="#f87076"/>
<circle cx="463.19" cy="428.26" r="2.65" fill="#f87076"/>
<circle cx="460.37" cy="414.23" r="2.65" fill="#f87076"/>
<circle cx="461.72" cy="395.40" r="2.65" fill="#f87076"/>
<circle cx="480.71" cy="409.91" r="2.65" fill="#f87076"/>
<circle cx="474.07" cy="389.38" r="2.65" fill="#f87076"/>
<circle cx="481.30" cy="393.49" r="2.65" fill="#f87076"/>
<circle cx="494.26" cy="401.83" r="2.65" fill="#f87076"/>
<circle cx="488.98" cy="401.06" r="2.65" fill="#f87076"/>
<circle cx="483.35" cy="459.23" r="2.65" fill="#f87076"/>
<circle cx="461.05" cy="425.12" r="2.65" fill="#f87076"/>
<circle cx="486.11" cy="414.24" r="2.65" fill="#f87076"/>
<circle cx="473.66" cy="482.76" r="2.65" fill="#f87076"/>
<circle cx="466.99" cy="422.17" r="2.65" fill="#f87076"/>
<circle cx="489.64" cy="431.95" r="2.65" fill="#f87076"/>
<circle cx="468.56" cy="436.60" r="2.65" fill="#f87076"/>
<circle cx="477.09" cy="417.10" r="2.65" fill="#f87076"/>
<circle cx="480.87" cy="473.74" r="2.65" fill="#f87076"/>
<circle cx="462.15" cy="407.45" r="2.65" fill="#f87076"/>
<circle cx="460.90" cy="418.30" r="2.65" fill="#f87076"/>
<circle cx="495.85" cy="419.11" r="2.65" fill="#f87076"/>
<circle cx="480.83" cy="478.45" r="2.65" fill="#f87076"/>
<circle cx="494.40" cy="415.27" r="2.65" fill="#f87076"/>
<circle cx="491.99" cy="428.34" r="2.65" fill="#f87076"/>
<circle cx="456.95" cy="414.94" r="2.65" fill="#f87076"/>
<circle cx="470.97" cy="466.97" r="2.65" fill="#f87076"/>
<circle cx="472.48" cy="437.75" r="2.65" fill="#f87076"/>
<circle cx="476.92" cy="470.80" r="2.65" fill="#f87076"/>
<circle cx="469.29" cy="406.85" r="2.65" fill="#f87076"/>
<circle cx="486.51" cy="386.57" r="2.65" fill="#f87076"/>
<circle cx="479.73" cy="384.38" r="2.65" fill="#f87076"/>
<circle cx="483.20" cy="447.26" r="2.65" fill="#f87076"/>
<circle cx="466.78" cy="431.15" r="2.65" fill="#f87076"/>
<circle cx="493.26" cy="397.10" r="2.65" fill="#f87076"/>
<circle cx="458.42" cy="429.79" r="2.65" fill="#f87076"/>
<circle cx="474.82" cy="440.61" r="2.65" fill="#f87076"/>
<circle cx="464.62" cy="398.67" r="2.65" fill="#f87076"/>
<circle cx="457.62" cy="422.97" r="2.65" fill="#f87076"/>
<circle cx="468.96" cy="450.72" r="2.65" fill="#f87076"/>
<circle cx="489.68" cy="411.64" r="2.65" fill="#f87076"/>
<circle cx="472.45" cy="393.77" r="2.65" fill="#f87076"/>
<circle cx="490.56" cy="446.05" r="2.65" fill="#f87076"/>
<circle cx="471.55" cy="425.87" r="2.65" fill="#f87076"/>
<circle cx="488.86" cy="436.32" r="2.65" fill="#f87076"/>
<circle cx="485.16" cy="417.76" r="2.65" fill="#f87076"/>
<circle cx="470.54" cy="457.84" r="2.65" fill="#f87076"/>
<circle cx="490.20" cy="425.16" r="2.65" fill="#f87076"/>
<circle cx="471.91" cy="418.30" r="2.65" fill="#f87076"/>
<circle cx="495.13" cy="405.62" r="2.65" fill="#f87076"/>
<circle cx="484.94" cy="398.69" r="2.65" fill="#f87076"/>
<circle cx="466.81" cy="386.99" r="2.65" fill="#f87076"/>
<circle cx="477.78" cy="413.00" r="2.65" fill="#f87076"/>
<circle cx="459.75" cy="404.70" r="2.65" fill="#f87076"/>
<circle cx="491.74" cy="421.51" r="2.65" fill="#f87076"/>
<circle cx="469.46" cy="412.60" r="2.65" fill="#f87076"/>
<circle cx="465.45" cy="394.92" r="2.65" fill="#f87076"/>
<circle cx="467.61" cy="446.62" r="2.65" fill="#f87076"/>
<circle cx="479.39" cy="406.72" r="2.65" fill="#f87076"/>
<circle cx="481.94" cy="424.56" r="2.65" fill="#f87076"/>
<circle cx="472.28" cy="401.74" r="2.65" fill="#f87076"/>
<circle cx="491.78" cy="408.90" r="2.65" fill="#f87076"/>
<circle cx="475.96" cy="437.22" r="2.65" fill="#f87076"/>
<circle cx="457.22" cy="419.07" r="2.65" fill="#f87076"/>
<circle cx="461.92" cy="437.89" r="2.65" fill="#f87076"/>
<circle cx="466.73" cy="456.49" r="2.65" fill="#f87076"/>
<circle cx="465.93" cy="441.74" r="2.65" fill="#f87076"/>
<circle cx="460.48" cy="433.17" r="2.65" fill="#f87076"/>
<circle cx="477.54" cy="430.90" r="2.65" fill="#f87076"/>
<circle cx="476.30" cy="420.66" r="2.65" fill="#f87076"/>
<circle cx="468.25" cy="382.72" r="2.65" fill="#f87076"/>
<circle cx="469.69" cy="428.93" r="2.65" fill="#f87076"/>
<circle cx="474.47" cy="429.07" r="2.65" fill="#f87076"/>
<circle cx="466.47" cy="418.62" r="2.65" fill="#f87076"/>
<circle cx="477.40" cy="377.30" r="2.65" fill="#f87076"/>
<circle cx="489.04" cy="389.50" r="2.65" fill="#f87076"/>
<circle cx="483.12" cy="420.56" r="2.65" fill="#f87076"/>
<circle cx="495.75" cy="428.04" r="2.65" fill="#f87076"/>
<circle cx="477.14" cy="453.23" r="2.65" fill="#f87076"/>
<circle cx="493.43" cy="439.19" r="2.65" fill="#f87076"/>
<circle cx="469.05" cy="463.95" r="2.65" fill="#f87076"/>
<circle cx="456.73" cy="426.65" r="2.65" fill="#f87076"/>
<circle cx="547.30" cy="325.00" r="2.65" fill="#12e0b4"/>
<circle cx="542.30" cy="328.00" r="2.65" fill="#12e0b4"/>
<circle cx="547.30" cy="332.00" r="2.65" fill="#12e0b4"/>
<circle cx="542.70" cy="335.00" r="2.65" fill="#12e0b4"/>
<circle cx="544.40" cy="338.40" r="2.65" fill="#12e0b4"/>
<circle cx="542.10" cy="343.00" r="2.65" fill="#12e0b4"/>
<circle cx="550.20" cy="345.40" r="2.65" fill="#12e0b4"/>
<circle cx="552.50" cy="351.20" r="2.65" fill="#12e0b4"/>
<circle cx="537.50" cy="351.20" r="2.65" fill="#12e0b4"/>
<circle cx="543.30" cy="352.30" r="2.65" fill="#12e0b4"/>
<circle cx="546.70" cy="354.00" r="2.65" fill="#12e0b4"/>
<circle cx="545.00" cy="467.00" r="2.65" fill="#12e0b4"/>
<circle cx="543.30" cy="473.20" r="2.65" fill="#12e0b4"/>
<circle cx="547.90" cy="473.20" r="2.65" fill="#12e0b4"/>
<circle cx="542.50" cy="485.00" r="2.65" fill="#12e0b4"/>
<circle cx="548.00" cy="484.00" r="2.65" fill="#12e0b4"/>
<circle cx="534.51" cy="381.02" r="2.65" fill="#12e0b4"/>
<circle cx="534.41" cy="397.98" r="2.65" fill="#12e0b4"/>
<circle cx="540.99" cy="363.05" r="2.65" fill="#12e0b4"/>
<circle cx="547.44" cy="453.30" r="2.65" fill="#12e0b4"/>
<circle cx="540.79" cy="437.11" r="2.65" fill="#12e0b4"/>
<circle cx="538.14" cy="412.89" r="2.65" fill="#12e0b4"/>
<circle cx="534.59" cy="374.30" r="2.65" fill="#12e0b4"/>
<circle cx="557.34" cy="378.73" r="2.65" fill="#12e0b4"/>
<circle cx="549.08" cy="443.87" r="2.65" fill="#12e0b4"/>
<circle cx="540.28" cy="440.85" r="2.65" fill="#12e0b4"/>
<circle cx="550.17" cy="388.84" r="2.65" fill="#12e0b4"/>
<circle cx="553.94" cy="433.58" r="2.65" fill="#12e0b4"/>
<circle cx="539.67" cy="449.29" r="2.65" fill="#12e0b4"/>
<circle cx="550.27" cy="420.22" r="2.65" fill="#12e0b4"/>
<circle cx="535.11" cy="409.63" r="2.65" fill="#12e0b4"/>
<circle cx="532.39" cy="406.20" r="2.65" fill="#12e0b4"/>
<circle cx="548.53" cy="449.53" r="2.65" fill="#12e0b4"/>
<circle cx="542.36" cy="409.89" r="2.65" fill="#12e0b4"/>
<circle cx="542.88" cy="419.48" r="2.65" fill="#12e0b4"/>
<circle cx="540.10" cy="373.10" r="2.65" fill="#12e0b4"/>
<circle cx="550.00" cy="360.91" r="2.65" fill="#12e0b4"/>
<circle cx="546.41" cy="385.73" r="2.65" fill="#12e0b4"/>
<circle cx="540.18" cy="405.95" r="2.65" fill="#12e0b4"/>
<circle cx="542.72" cy="461.71" r="2.65" fill="#12e0b4"/>
<circle cx="538.13" cy="423.06" r="2.65" fill="#12e0b4"/>
<circle cx="552.81" cy="393.72" r="2.65" fill="#12e0b4"/>
<circle cx="533.96" cy="362.53" r="2.65" fill="#12e0b4"/>
<circle cx="547.90" cy="437.11" r="2.65" fill="#12e0b4"/>
<circle cx="540.82" cy="381.17" r="2.65" fill="#12e0b4"/>
<circle cx="544.36" cy="374.82" r="2.65" fill="#12e0b4"/>
<circle cx="539.10" cy="357.93" r="2.65" fill="#12e0b4"/>
<circle cx="546.54" cy="458.40" r="2.65" fill="#12e0b4"/>
<circle cx="558.61" cy="399.51" r="2.65" fill="#12e0b4"/>
<circle cx="554.76" cy="421.77" r="2.65" fill="#12e0b4"/>
<circle cx="532.44" cy="387.10" r="2.65" fill="#12e0b4"/>
<circle cx="525.23" cy="391.12" r="2.65" fill="#12e0b4"/>
<circle cx="528.60" cy="386.78" r="2.65" fill="#12e0b4"/>
<circle cx="534.24" cy="427.74" r="2.65" fill="#12e0b4"/>
<circle cx="544.93" cy="360.33" r="2.65" fill="#12e0b4"/>
<circle cx="559.28" cy="382.40" r="2.65" fill="#12e0b4"/>
<circle cx="546.23" cy="368.96" r="2.65" fill="#12e0b4"/>
<circle cx="544.63" cy="444.09" r="2.65" fill="#12e0b4"/>
<circle cx="550.71" cy="425.40" r="2.65" fill="#12e0b4"/>
<circle cx="541.15" cy="457.37" r="2.65" fill="#12e0b4"/>
<circle cx="547.12" cy="423.33" r="2.65" fill="#12e0b4"/>
<circle cx="539.84" cy="453.77" r="2.65" fill="#12e0b4"/>
<circle cx="539.80" cy="427.18" r="2.65" fill="#12e0b4"/>
<circle cx="545.81" cy="405.98" r="2.65" fill="#12e0b4"/>
<circle cx="530.06" cy="358.80" r="2.65" fill="#12e0b4"/>
<circle cx="555.71" cy="357.12" r="2.65" fill="#12e0b4"/>
<circle cx="545.13" cy="380.77" r="2.65" fill="#12e0b4"/>
<circle cx="544.64" cy="449.85" r="2.65" fill="#12e0b4"/>
<circle cx="558.69" cy="388.04" r="2.65" fill="#12e0b4"/>
<circle cx="554.16" cy="400.78" r="2.65" fill="#12e0b4"/>
<circle cx="555.87" cy="373.74" r="2.65" fill="#12e0b4"/>
<circle cx="557.41" cy="413.44" r="2.65" fill="#12e0b4"/>
<circle cx="531.34" cy="431.31" r="2.65" fill="#12e0b4"/>
<circle cx="551.62" cy="407.57" r="2.65" fill="#12e0b4"/>
<circle cx="555.13" cy="382.02" r="2.65" fill="#12e0b4"/>
<circle cx="557.63" cy="405.51" r="2.65" fill="#12e0b4"/>
<circle cx="530.51" cy="364.75" r="2.65" fill="#12e0b4"/>
<circle cx="532.52" cy="421.81" r="2.65" fill="#12e0b4"/>
<circle cx="549.77" cy="375.05" r="2.65" fill="#12e0b4"/>
<circle cx="536.88" cy="390.63" r="2.65" fill="#12e0b4"/>
<circle cx="550.98" cy="368.38" r="2.65" fill="#12e0b4"/>
<circle cx="548.04" cy="399.05" r="2.65" fill="#12e0b4"/>
<circle cx="541.95" cy="398.42" r="2.65" fill="#12e0b4"/>
<circle cx="530.05" cy="399.63" r="2.65" fill="#12e0b4"/>
<circle cx="548.52" cy="429.49" r="2.65" fill="#12e0b4"/>
<circle cx="558.85" cy="394.62" r="2.65" fill="#12e0b4"/>
<circle cx="564.28" cy="363.18" r="2.65" fill="#12e0b4"/>
<circle cx="563.23" cy="387.72" r="2.65" fill="#12e0b4"/>
<circle cx="525.94" cy="366.26" r="2.65" fill="#12e0b4"/>
<circle cx="558.90" cy="425.45" r="2.65" fill="#12e0b4"/>
<circle cx="550.95" cy="415.36" r="2.65" fill="#12e0b4"/>
<circle cx="560.11" cy="358.01" r="2.65" fill="#12e0b4"/>
<circle cx="553.69" cy="364.64" r="2.65" fill="#12e0b4"/>
<circle cx="537.32" cy="419.37" r="2.65" fill="#12e0b4"/>
<circle cx="552.52" cy="438.85" r="2.65" fill="#12e0b4"/>
<circle cx="529.68" cy="409.99" r="2.65" fill="#12e0b4"/>
<circle cx="534.77" cy="433.70" r="2.65" fill="#12e0b4"/>
<circle cx="540.46" cy="387.60" r="2.65" fill="#12e0b4"/>
<circle cx="535.02" cy="402.36" r="2.65" fill="#12e0b4"/>
<circle cx="543.36" cy="392.09" r="2.65" fill="#12e0b4"/>
<circle cx="564.03" cy="368.08" r="2.65" fill="#12e0b4"/>
<circle cx="559.11" cy="364.03" r="2.65" fill="#12e0b4"/>
<circle cx="546.25" cy="413.89" r="2.65" fill="#12e0b4"/>
<circle cx="553.92" cy="388.46" r="2.65" fill="#12e0b4"/>
<circle cx="531.26" cy="370.45" r="2.65" fill="#12e0b4"/>
<circle cx="539.30" cy="402.13" r="2.65" fill="#12e0b4"/>
<circle cx="546.51" cy="410.13" r="2.65" fill="#12e0b4"/>
<circle cx="550.20" cy="356.28" r="2.65" fill="#12e0b4"/>
<circle cx="525.01" cy="361.87" r="2.65" fill="#12e0b4"/>
<circle cx="558.27" cy="369.14" r="2.65" fill="#12e0b4"/>
<circle cx="557.25" cy="360.76" r="2.65" fill="#12e0b4"/>
<circle cx="547.52" cy="393.00" r="2.65" fill="#12e0b4"/>
<circle cx="542.98" cy="430.61" r="2.65" fill="#12e0b4"/>
<circle cx="542.97" cy="356.79" r="2.65" fill="#12e0b4"/>
<circle cx="531.84" cy="413.32" r="2.65" fill="#12e0b4"/>
<circle cx="551.84" cy="378.36" r="2.65" fill="#12e0b4"/>
<circle cx="552.86" cy="429.18" r="2.65" fill="#12e0b4"/>
<circle cx="559.77" cy="408.93" r="2.65" fill="#12e0b4"/>
<circle cx="541.24" cy="369.13" r="2.65" fill="#12e0b4"/>
<circle cx="557.53" cy="429.38" r="2.65" fill="#12e0b4"/>
<circle cx="538.56" cy="433.49" r="2.65" fill="#12e0b4"/>
<circle cx="559.11" cy="419.10" r="2.65" fill="#12e0b4"/>
<circle cx="534.24" cy="358.50" r="2.65" fill="#12e0b4"/>
<circle cx="551.85" cy="397.54" r="2.65" fill="#12e0b4"/>
<circle cx="529.92" cy="390.71" r="2.65" fill="#12e0b4"/>
<circle cx="538.07" cy="378.16" r="2.65" fill="#12e0b4"/>
<circle cx="555.68" cy="410.01" r="2.65" fill="#12e0b4"/>
<circle cx="531.67" cy="394.87" r="2.65" fill="#12e0b4"/>
<circle cx="545.25" cy="364.95" r="2.65" fill="#12e0b4"/>
<circle cx="554.70" cy="417.57" r="2.65" fill="#12e0b4"/>
<circle cx="530.83" cy="417.08" r="2.65" fill="#12e0b4"/>
<circle cx="536.67" cy="366.57" r="2.65" fill="#12e0b4"/>
<circle cx="540.72" cy="445.43" r="2.65" fill="#12e0b4"/>
<circle cx="541.55" cy="415.74" r="2.65" fill="#12e0b4"/>
<circle cx="540.07" cy="394.96" r="2.65" fill="#12e0b4"/>
<circle cx="532.33" cy="377.59" r="2.65" fill="#12e0b4"/>
<circle cx="544.14" cy="426.06" r="2.65" fill="#12e0b4"/>
<circle cx="536.24" cy="386.67" r="2.65" fill="#12e0b4"/>
<circle cx="549.10" cy="364.90" r="2.65" fill="#12e0b4"/>
<circle cx="549.89" cy="382.55" r="2.65" fill="#12e0b4"/>
<circle cx="530.27" cy="425.82" r="2.65" fill="#12e0b4"/>
<circle cx="544.49" cy="439.15" r="2.65" fill="#12e0b4"/>
<circle cx="543.44" cy="401.98" r="2.65" fill="#12e0b4"/>
<circle cx="550.21" cy="403.94" r="2.65" fill="#12e0b4"/>
<circle cx="547.23" cy="433.37" r="2.65" fill="#12e0b4"/>
<circle cx="552.25" cy="372.20" r="2.65" fill="#12e0b4"/>
<circle cx="524.66" cy="385.47" r="2.65" fill="#12e0b4"/>
<circle cx="550.47" cy="411.14" r="2.65" fill="#12e0b4"/>
<circle cx="565.18" cy="391.08" r="2.65" fill="#12e0b4"/>
<circle cx="534.88" cy="416.09" r="2.65" fill="#12e0b4"/>
<circle cx="531.29" cy="383.41" r="2.65" fill="#12e0b4"/>
<circle cx="536.97" cy="437.50" r="2.65" fill="#12e0b4"/>
<circle cx="547.26" cy="417.60" r="2.65" fill="#12e0b4"/>
<circle cx="535.60" cy="370.65" r="2.65" fill="#12e0b4"/>
<circle cx="543.55" cy="454.38" r="2.65" fill="#12e0b4"/>
<circle cx="555.60" cy="396.59" r="2.65" fill="#12e0b4"/>
<circle cx="536.19" cy="394.46" r="2.65" fill="#12e0b4"/>
<circle cx="561.45" cy="391.84" r="2.65" fill="#12e0b4"/>
<circle cx="542.70" cy="384.41" r="2.65" fill="#12e0b4"/>
<circle cx="556.15" cy="391.65" r="2.65" fill="#12e0b4"/>
<circle cx="554.99" cy="426.01" r="2.65" fill="#12e0b4"/>
<circle cx="544.93" cy="396.00" r="2.65" fill="#12e0b4"/>
<g>
<clipPath id="c1"><rect x="0" y="0" width="1238" height="347.4"/></clipPath>
<g clip-path="url(#c1)">
<polyline points="716.70,52.40 729.60,102.60 747.20,111.10 763.40,275.30 860.00,263.50 960.00,251.20 1036.90,242.00 1080.00,239.00 1130.60,236.80" fill="none" stroke="#f3ef98" stroke-width="1.8" stroke-linejoin="round"/>
<polyline points="716.70,52.40 730.20,81.50 746.50,90.60 762.60,281.90 860.00,272.80 940.00,265.90 960.00,263.50 1036.90,256.50 1080.00,254.50 1130.60,253.20" fill="none" stroke="#d9606f" stroke-width="1.2" stroke-linejoin="round"/>
<line x1="716.70" y1="25.90" x2="716.70" y2="297.40" stroke="#4a4a4a" stroke-width="1.1" />
<line x1="716.70" y1="294.40" x2="1137.80" y2="294.40" stroke="#4a4a4a" stroke-width="1.1" />
<line x1="712.70" y1="294.40" x2="716.70" y2="294.40" stroke="#4a4a4a" stroke-width="1.0" />
<line x1="714.70" y1="285.10" x2="716.70" y2="285.10" stroke="#4a4a4a" stroke-width="1.0" />
<line x1="714.70" y1="275.80" x2="716.70" y2="275.80" stroke="#4a4a4a" stroke-width="1.0" />
<line x1="714.70" y1="266.50" x2="716.70" y2="266.50" stroke="#4a4a4a" stroke-width="1.0" />
<line x1="714.70" y1="257.20" x2="716.70" y2="257.20" stroke="#4a4a4a" stroke-width="1.0" />
<line x1="712.70" y1="247.90" x2="716.70" y2="247.90" stroke="#4a4a4a" stroke-width="1.0" />
<line x1="714.70" y1="238.60" x2="716.70" y2="238.60" stroke="#4a4a4a" stroke-width="1.0" />
<line x1="714.70" y1="229.30" x2="716.70" y2="229.30" stroke="#4a4a4a" stroke-width="1.0" />
<line x1="714.70" y1="220.00" x2="716.70" y2="220.00" stroke="#4a4a4a" stroke-width="1.0" />
<line x1="714.70" y1="210.70" x2="716.70" y2="210.70" stroke="#4a4a4a" stroke-width="1.0" />
<line x1="712.70" y1="201.40" x2="716.70" y2="201.40" stroke="#4a4a4a" stroke-width="1.0" />
<line x1="714.70" y1="192.10" x2="716.70" y2="192.10" stroke="#4a4a4a" stroke-width="1.0" />
<line x1="714.70" y1="182.80" x2="716.70" y2="182.80" stroke="#4a4a4a" stroke-width="1.0" />
<line x1="714.70" y1="173.50" x2="716.70" y2="173.50" stroke="#4a4a4a" stroke-width="1.0" />
<line x1="714.70" y1="164.20" x2="716.70" y2="164.20" stroke="#4a4a4a" stroke-width="1.0" />
<line x1="712.70" y1="154.90" x2="716.70" y2="154.90" stroke="#4a4a4a" stroke-width="1.0" />
<line x1="714.70" y1="145.60" x2="716.70" y2="145.60" stroke="#4a4a4a" stroke-width="1.0" />
<line x1="714.70" y1="136.30" x2="716.70" y2="136.30" stroke="#4a4a4a" stroke-width="1.0" />
<line x1="714.70" y1="127.00" x2="716.70" y2="127.00" stroke="#4a4a4a" stroke-width="1.0" />
<line x1="714.70" y1="117.70" x2="716.70" y2="117.70" stroke="#4a4a4a" stroke-width="1.0" />
<line x1="712.70" y1="108.40" x2="716.70" y2="108.40" stroke="#4a4a4a" stroke-width="1.0" />
<line x1="714.70" y1="99.10" x2="716.70" y2="99.10" stroke="#4a4a4a" stroke-width="1.0" />
<line x1="714.70" y1="89.80" x2="716.70" y2="89.80" stroke="#4a4a4a" stroke-width="1.0" />
<line x1="714.70" y1="80.50" x2="716.70" y2="80.50" stroke="#4a4a4a" stroke-width="1.0" />
<line x1="714.70" y1="71.20" x2="716.70" y2="71.20" stroke="#4a4a4a" stroke-width="1.0" />
<line x1="712.70" y1="61.90" x2="716.70" y2="61.90" stroke="#4a4a4a" stroke-width="1.0" />
<line x1="714.70" y1="52.60" x2="716.70" y2="52.60" stroke="#4a4a4a" stroke-width="1.0" />
<line x1="714.70" y1="43.30" x2="716.70" y2="43.30" stroke="#4a4a4a" stroke-width="1.0" />
<line x1="714.70" y1="34.00" x2="716.70" y2="34.00" stroke="#4a4a4a" stroke-width="1.0" />
<g transform="translate(700.3,297.20) scale(0.9,1)">
<text x="0.00" y="0.00" font-family='"Liberation Serif", serif' font-size="12.0" font-weight="normal" font-style="normal" text-anchor="middle" fill="#111" >0</text>
</g>
<g transform="translate(700.3,250.70) scale(0.9,1)">
<text x="0.00" y="0.00" font-family='"Liberation Serif", serif' font-size="12.0" font-weight="normal" font-style="normal" text-anchor="middle" fill="#111" >10</text>
</g>
<g transform="translate(700.3,204.20) scale(0.9,1)">
<text x="0.00" y="0.00" font-family='"Liberation Serif", serif' font-size="12.0" font-weight="normal" font-style="normal" text-anchor="middle" fill="#111" >20</text>
</g>
<g transform="translate(700.3,157.70) scale(0.9,1)">
<text x="0.00" y="0.00" font-family='"Liberation Serif", serif' font-size="12.0" font-weight="normal" font-style="normal" text-anchor="middle" fill="#111" >30</text>
</g>
<g transform="translate(700.3,111.20) scale(0.9,1)">
<text x="0.00" y="0.00" font-family='"Liberation Serif", serif' font-size="12.0" font-weight="normal" font-style="normal" text-anchor="middle" fill="#111" >40</text>
</g>
<g transform="translate(700.3,64.70) scale(0.9,1)">
<text x="0.00" y="0.00" font-family='"Liberation Serif", serif' font-size="12.0" font-weight="normal" font-style="normal" text-anchor="middle" fill="#111" >50</text>
</g>
<line x1="730.86" y1="294.40" x2="730.86" y2="296.40" stroke="#4a4a4a" stroke-width="1.0" />
<line x1="746.82" y1="294.40" x2="746.82" y2="296.40" stroke="#4a4a4a" stroke-width="1.0" />
<line x1="762.78" y1="294.40" x2="762.78" y2="296.40" stroke="#4a4a4a" stroke-width="1.0" />
<line x1="778.74" y1="294.40" x2="778.74" y2="296.40" stroke="#4a4a4a" stroke-width="1.0" />
<line x1="794.70" y1="294.40" x2="794.70" y2="298.40" stroke="#4a4a4a" stroke-width="1.0" />
<g transform="translate(794.70,312.3) scale(0.9,1)">
<text x="0.00" y="0.00" font-family='"Liberation Serif", serif' font-size="12.0" font-weight="normal" font-style="normal" text-anchor="middle" fill="#111" >5</text>
</g>
<line x1="810.66" y1="294.40" x2="810.66" y2="296.40" stroke="#4a4a4a" stroke-width="1.0" />
<line x1="826.62" y1="294.40" x2="826.62" y2="296.40" stroke="#4a4a4a" stroke-width="1.0" />
<line x1="842.58" y1="294.40" x2="842.58" y2="296.40" stroke="#4a4a4a" stroke-width="1.0" />
<line x1="858.54" y1="294.40" x2="858.54" y2="296.40" stroke="#4a4a4a" stroke-width="1.0" />
<line x1="874.50" y1="294.40" x2="874.50" y2="298.40" stroke="#4a4a4a" stroke-width="1.0" />
<g transform="translate(874.50,312.3) scale(0.9,1)">
<text x="0.00" y="0.00" font-family='"Liberation Serif", serif' font-size="12.0" font-weight="normal" font-style="normal" text-anchor="middle" fill="#111" >10</text>
</g>
<line x1="890.46" y1="294.40" x2="890.46" y2="296.40" stroke="#4a4a4a" stroke-width="1.0" />
<line x1="906.42" y1="294.40" x2="906.42" y2="296.40" stroke="#4a4a4a" stroke-width="1.0" />
<line x1="922.38" y1="294.40" x2="922.38" y2="296.40" stroke="#4a4a4a" stroke-width="1.0" />
<line x1="938.34" y1="294.40" x2="938.34" y2="296.40" stroke="#4a4a4a" stroke-width="1.0" />
<line x1="954.30" y1="294.40" x2="954.30" y2="298.40" stroke="#4a4a4a" stroke-width="1.0" />
<g transform="translate(954.30,312.3) scale(0.9,1)">
<text x="0.00" y="0.00" font-family='"Liberation Serif", serif' font-size="12.0" font-weight="normal" font-style="normal" text-anchor="middle" fill="#111" >15</text>
</g>
<line x1="970.26" y1="294.40" x2="970.26" y2="296.40" stroke="#4a4a4a" stroke-width="1.0" />
<line x1="986.22" y1="294.40" x2="986.22" y2="296.40" stroke="#4a4a4a" stroke-width="1.0" />
<line x1="1002.18" y1="294.40" x2="1002.18" y2="296.40" stroke="#4a4a4a" stroke-width="1.0" />
<line x1="1018.14" y1="294.40" x2="1018.14" y2="296.40" stroke="#4a4a4a" stroke-width="1.0" />
<line x1="1034.10" y1="294.40" x2="1034.10" y2="298.40" stroke="#4a4a4a" stroke-width="1.0" />
<g transform="translate(1034.10,312.3) scale(0.9,1)">
<text x="0.00" y="0.00" font-family='"Liberation Serif", serif' font-size="12.0" font-weight="normal" font-style="normal" text-anchor="middle" fill="#111" >20</text>
</g>
<line x1="1050.06" y1="294.40" x2="1050.06" y2="296.40" stroke="#4a4a4a" stroke-width="1.0" />
<line x1="1066.02" y1="294.40" x2="1066.02" y2="296.40" stroke="#4a4a4a" stroke-width="1.0" />
<line x1="1081.98" y1="294.40" x2="1081.98" y2="296.40" stroke="#4a4a4a" stroke-width="1.0" />
<line x1="1097.94" y1="294.40" x2="1097.94" y2="296.40" stroke="#4a4a4a" stroke-width="1.0" />
<line x1="1113.90" y1="294.40" x2="1113.90" y2="298.40" stroke="#4a4a4a" stroke-width="1.0" />
<g transform="translate(1113.90,312.3) scale(0.9,1)">
<text x="0.00" y="0.00" font-family='"Liberation Serif", serif' font-size="12.0" font-weight="normal" font-style="normal" text-anchor="middle" fill="#111" >25</text>
</g>
<line x1="1129.86" y1="294.40" x2="1129.86" y2="296.40" stroke="#4a4a4a" stroke-width="1.0" />
<path d="M723.4,294.4 L726.6,291.84 L729.8000000000001,294.4 L726.6,296.96 Z" fill="#e23a4a" stroke="#e23a4a" stroke-width="0.6"/>
<path d="M744.0,294.4 L747.2,291.84 L750.4000000000001,294.4 L747.2,296.96 Z" fill="#e23a4a" stroke="#e23a4a" stroke-width="0.6"/>
<path d="M747.9,294.4 L751.1,291.84 L754.3000000000001,294.4 L751.1,296.96 Z" fill="#e23a4a" stroke="#e23a4a" stroke-width="0.6"/>
<path d="M1134.6,294.4 L1137.8,291.84 L1141.0,294.4 L1137.8,296.96 Z" fill="#e23a4a" stroke="#e23a4a" stroke-width="0.6"/>
<g transform="translate(684.5,161) rotate(-90)">
<text x="0.00" y="0.00" font-family='"Liberation Serif", serif' font-size="10.6" font-weight="bold" font-style="normal" text-anchor="middle" fill="#000" textLength="54.00" lengthAdjust="spacingAndGlyphs" >LOD Score</text>
</g>
<line x1="1014.20" y1="72.40" x2="1047.70" y2="72.40" stroke="#c99583" stroke-width="1.1" />
<line x1="1014.20" y1="105.10" x2="1047.70" y2="105.10" stroke="#e3da86" stroke-width="1.2" />
<text x="1067.00" y="90.10" font-family='"Liberation Sans", sans-serif' font-size="24.5" font-weight="normal" font-style="normal" text-anchor="start" fill="#000" textLength="39.50" lengthAdjust="spacingAndGlyphs" stroke="#fff" stroke-width="0.35">TRL</text>
<text x="1069.00" y="120.90" font-family='"Liberation Sans", sans-serif' font-size="24.5" font-weight="normal" font-style="normal" text-anchor="start" fill="#000" textLength="24.80" lengthAdjust="spacingAndGlyphs" stroke="#fff" stroke-width="0.35">RS</text>
<text x="847.40" y="346.70" font-family='"Liberation Sans", sans-serif' font-size="24.5" font-weight="normal" font-style="normal" text-anchor="start" fill="#000" textLength="144.00" lengthAdjust="spacingAndGlyphs" stroke="#fff" stroke-width="0.35">Position (Mb)</text>
</g></g>
<polyline points="717.30,440.20 733.50,538.30 749.50,549.60 765.80,627.50 860.00,628.30 960.00,629.80 1000.00,630.40 1080.00,630.40 1138.50,628.20" fill="none" stroke="#f3ef98" stroke-width="1.8" stroke-linejoin="round"/>
<polyline points="717.30,375.90 733.50,502.30 749.50,499.10 766.30,621.60 860.00,617.50 960.00,612.10 985.00,610.50 1006.20,609.50 1024.80,609.50 1045.20,611.50 1072.30,616.30 1097.80,621.00 1138.50,626.50" fill="none" stroke="#d9606f" stroke-width="1.2" stroke-linejoin="round"/>
<line x1="717.30" y1="365.10" x2="717.30" y2="639.50" stroke="#4a4a4a" stroke-width="1.1" />
<line x1="717.30" y1="631.20" x2="1145.30" y2="631.20" stroke="#4a4a4a" stroke-width="1.1" />
<line x1="713.30" y1="631.20" x2="717.30" y2="631.20" stroke="#4a4a4a" stroke-width="1.0" />
<line x1="715.30" y1="622.32" x2="717.30" y2="622.32" stroke="#4a4a4a" stroke-width="1.0" />
<line x1="715.30" y1="613.44" x2="717.30" y2="613.44" stroke="#4a4a4a" stroke-width="1.0" />
<line x1="715.30" y1="604.56" x2="717.30" y2="604.56" stroke="#4a4a4a" stroke-width="1.0" />
<line x1="713.30" y1="595.68" x2="717.30" y2="595.68" stroke="#4a4a4a" stroke-width="1.0" />
<line x1="715.30" y1="586.80" x2="717.30" y2="586.80" stroke="#4a4a4a" stroke-width="1.0" />
<line x1="715.30" y1="577.92" x2="717.30" y2="577.92" stroke="#4a4a4a" stroke-width="1.0" />
<line x1="715.30" y1="569.04" x2="717.30" y2="569.04" stroke="#4a4a4a" stroke-width="1.0" />
<line x1="713.30" y1="560.16" x2="717.30" y2="560.16" stroke="#4a4a4a" stroke-width="1.0" />
<line x1="715.30" y1="551.28" x2="717.30" y2="551.28" stroke="#4a4a4a" stroke-width="1.0" />
<line x1="715.30" y1="542.40" x2="717.30" y2="542.40" stroke="#4a4a4a" stroke-width="1.0" />
<line x1="715.30" y1="533.52" x2="717.30" y2="533.52" stroke="#4a4a4a" stroke-width="1.0" />
<line x1="713.30" y1="524.64" x2="717.30" y2="524.64" stroke="#4a4a4a" stroke-width="1.0" />
<line x1="715.30" y1="515.76" x2="717.30" y2="515.76" stroke="#4a4a4a" stroke-width="1.0" />
<line x1="715.30" y1="506.88" x2="717.30" y2="506.88" stroke="#4a4a4a" stroke-width="1.0" />
<line x1="715.30" y1="498.00" x2="717.30" y2="498.00" stroke="#4a4a4a" stroke-width="1.0" />
<line x1="713.30" y1="489.12" x2="717.30" y2="489.12" stroke="#4a4a4a" stroke-width="1.0" />
<line x1="715.30" y1="480.24" x2="717.30" y2="480.24" stroke="#4a4a4a" stroke-width="1.0" />
<line x1="715.30" y1="471.36" x2="717.30" y2="471.36" stroke="#4a4a4a" stroke-width="1.0" />
<line x1="715.30" y1="462.48" x2="717.30" y2="462.48" stroke="#4a4a4a" stroke-width="1.0" />
<line x1="713.30" y1="453.60" x2="717.30" y2="453.60" stroke="#4a4a4a" stroke-width="1.0" />
<line x1="715.30" y1="444.72" x2="717.30" y2="444.72" stroke="#4a4a4a" stroke-width="1.0" />
<line x1="715.30" y1="435.84" x2="717.30" y2="435.84" stroke="#4a4a4a" stroke-width="1.0" />
<line x1="715.30" y1="426.96" x2="717.30" y2="426.96" stroke="#4a4a4a" stroke-width="1.0" />
<line x1="713.30" y1="418.08" x2="717.30" y2="418.08" stroke="#4a4a4a" stroke-width="1.0" />
<line x1="715.30" y1="409.20" x2="717.30" y2="409.20" stroke="#4a4a4a" stroke-width="1.0" />
<line x1="715.30" y1="400.32" x2="717.30" y2="400.32" stroke="#4a4a4a" stroke-width="1.0" />
<line x1="715.30" y1="391.44" x2="717.30" y2="391.44" stroke="#4a4a4a" stroke-width="1.0" />
<line x1="713.30" y1="382.56" x2="717.30" y2="382.56" stroke="#4a4a4a" stroke-width="1.0" />
<line x1="715.30" y1="373.68" x2="717.30" y2="373.68" stroke="#4a4a4a" stroke-width="1.0" />
<g transform="translate(699.4,634.70) scale(1.3,1)">
<text x="0.00" y="0.00" font-family='"Liberation Serif", serif' font-size="10.3" font-weight="normal" font-style="normal" text-anchor="middle" fill="#333" >0.0</text>
</g>
<g transform="translate(699.4,599.18) scale(1.3,1)">
<text x="0.00" y="0.00" font-family='"Liberation Serif", serif' font-size="10.3" font-weight="normal" font-style="normal" text-anchor="middle" fill="#333" >0.2</text>
</g>
<g transform="translate(699.4,563.66) scale(1.3,1)">
<text x="0.00" y="0.00" font-family='"Liberation Serif", serif' font-size="10.3" font-weight="normal" font-style="normal" text-anchor="middle" fill="#333" >0.4</text>
</g>
<g transform="translate(699.4,528.14) scale(1.3,1)">
<text x="0.00" y="0.00" font-family='"Liberation Serif", serif' font-size="10.3" font-weight="normal" font-style="normal" text-anchor="middle" fill="#333" >0.6</text>
</g>
<g transform="translate(699.4,492.62) scale(1.3,1)">
<text x="0.00" y="0.00" font-family='"Liberation Serif", serif' font-size="10.3" font-weight="normal" font-style="normal" text-anchor="middle" fill="#333" >0.8</text>
</g>
<g transform="translate(699.4,457.10) scale(1.3,1)">
<text x="0.00" y="0.00" font-family='"Liberation Serif", serif' font-size="10.3" font-weight="normal" font-style="normal" text-anchor="middle" fill="#333" >1.0</text>
</g>
<g transform="translate(699.4,421.58) scale(1.3,1)">
<text x="0.00" y="0.00" font-family='"Liberation Serif", serif' font-size="10.3" font-weight="normal" font-style="normal" text-anchor="middle" fill="#333" >1.2</text>
</g>
<g transform="translate(699.4,386.06) scale(1.3,1)">
<text x="0.00" y="0.00" font-family='"Liberation Serif", serif' font-size="10.3" font-weight="normal" font-style="normal" text-anchor="middle" fill="#333" >1.4</text>
</g>
<line x1="733.48" y1="631.20" x2="733.48" y2="633.20" stroke="#4a4a4a" stroke-width="1.0" />
<line x1="749.66" y1="631.20" x2="749.66" y2="633.20" stroke="#4a4a4a" stroke-width="1.0" />
<line x1="765.84" y1="631.20" x2="765.84" y2="633.20" stroke="#4a4a4a" stroke-width="1.0" />
<line x1="782.02" y1="631.20" x2="782.02" y2="633.20" stroke="#4a4a4a" stroke-width="1.0" />
<line x1="798.20" y1="631.20" x2="798.20" y2="635.20" stroke="#4a4a4a" stroke-width="1.0" />
<g transform="translate(798.20,650.0) scale(1.3,1)">
<text x="0.00" y="0.00" font-family='"Liberation Serif", serif' font-size="10.3" font-weight="normal" font-style="normal" text-anchor="middle" fill="#333" >5</text>
</g>
<line x1="814.38" y1="631.20" x2="814.38" y2="633.20" stroke="#4a4a4a" stroke-width="1.0" />
<line x1="830.56" y1="631.20" x2="830.56" y2="633.20" stroke="#4a4a4a" stroke-width="1.0" />
<line x1="846.74" y1="631.20" x2="846.74" y2="633.20" stroke="#4a4a4a" stroke-width="1.0" />
<line x1="862.92" y1="631.20" x2="862.92" y2="633.20" stroke="#4a4a4a" stroke-width="1.0" />
<line x1="879.10" y1="631.20" x2="879.10" y2="635.20" stroke="#4a4a4a" stroke-width="1.0" />
<g transform="translate(879.10,650.0) scale(1.3,1)">
<text x="0.00" y="0.00" font-family='"Liberation Serif", serif' font-size="10.3" font-weight="normal" font-style="normal" text-anchor="middle" fill="#333" >10</text>
</g>
<line x1="895.28" y1="631.20" x2="895.28" y2="633.20" stroke="#4a4a4a" stroke-width="1.0" />
<line x1="911.46" y1="631.20" x2="911.46" y2="633.20" stroke="#4a4a4a" stroke-width="1.0" />
<line x1="927.64" y1="631.20" x2="927.64" y2="633.20" stroke="#4a4a4a" stroke-width="1.0" />
<line x1="943.82" y1="631.20" x2="943.82" y2="633.20" stroke="#4a4a4a" stroke-width="1.0" />
<line x1="960.00" y1="631.20" x2="960.00" y2="635.20" stroke="#4a4a4a" stroke-width="1.0" />
<g transform="translate(960.00,650.0) scale(1.3,1)">
<text x="0.00" y="0.00" font-family='"Liberation Serif", serif' font-size="10.3" font-weight="normal" font-style="normal" text-anchor="middle" fill="#333" >15</text>
</g>
<line x1="976.18" y1="631.20" x2="976.18" y2="633.20" stroke="#4a4a4a" stroke-width="1.0" />
<line x1="992.36" y1="631.20" x2="992.36" y2="633.20" stroke="#4a4a4a" stroke-width="1.0" />
<line x1="1008.54" y1="631.20" x2="1008.54" y2="633.20" stroke="#4a4a4a" stroke-width="1.0" />
<line x1="1024.72" y1="631.20" x2="1024.72" y2="633.20" stroke="#4a4a4a" stroke-width="1.0" />
<line x1="1040.90" y1="631.20" x2="1040.90" y2="635.20" stroke="#4a4a4a" stroke-width="1.0" />
<g transform="translate(1040.90,650.0) scale(1.3,1)">
<text x="0.00" y="0.00" font-family='"Liberation Serif", serif' font-size="10.3" font-weight="normal" font-style="normal" text-anchor="middle" fill="#333" >20</text>
</g>
<line x1="1057.08" y1="631.20" x2="1057.08" y2="633.20" stroke="#4a4a4a" stroke-width="1.0" />
<line x1="1073.26" y1="631.20" x2="1073.26" y2="633.20" stroke="#4a4a4a" stroke-width="1.0" />
<line x1="1089.44" y1="631.20" x2="1089.44" y2="633.20" stroke="#4a4a4a" stroke-width="1.0" />
<line x1="1105.62" y1="631.20" x2="1105.62" y2="633.20" stroke="#4a4a4a" stroke-width="1.0" />
<line x1="1121.80" y1="631.20" x2="1121.80" y2="635.20" stroke="#4a4a4a" stroke-width="1.0" />
<g transform="translate(1121.80,650.0) scale(1.3,1)">
<text x="0.00" y="0.00" font-family='"Liberation Serif", serif' font-size="10.3" font-weight="normal" font-style="normal" text-anchor="middle" fill="#333" >25</text>
</g>
<line x1="1137.98" y1="631.20" x2="1137.98" y2="633.20" stroke="#4a4a4a" stroke-width="1.0" />
<path d="M714.5,631.2 L717.7,628.6400000000001 L720.9000000000001,631.2 L717.7,633.76 Z" fill="#e23a4a" stroke="#e23a4a" stroke-width="0.6"/>
<path d="M726.0999999999999,631.2 L729.3,628.6400000000001 L732.5,631.2 L729.3,633.76 Z" fill="#e23a4a" stroke="#e23a4a" stroke-width="0.6"/>
<path d="M746.9,631.2 L750.1,628.6400000000001 L753.3000000000001,631.2 L750.1,633.76 Z" fill="#e23a4a" stroke="#e23a4a" stroke-width="0.6"/>
<path d="M749.1999999999999,631.2 L752.4,628.6400000000001 L755.6,631.2 L752.4,633.76 Z" fill="#e23a4a" stroke="#e23a4a" stroke-width="0.6"/>
<path d="M751.5,631.2 L754.7,628.6400000000001 L757.9000000000001,631.2 L754.7,633.76 Z" fill="#e23a4a" stroke="#e23a4a" stroke-width="0.6"/>
<path d="M1142.1,631.2 L1145.3,628.6400000000001 L1148.5,631.2 L1145.3,633.76 Z" fill="#e23a4a" stroke="#e23a4a" stroke-width="0.6"/>
<g transform="translate(681.5,502.2) rotate(-90)">
<text x="0.00" y="0.00" font-family='"Liberation Serif", serif' font-size="10.6" font-weight="bold" font-style="normal" text-anchor="middle" fill="#000" textLength="54.00" lengthAdjust="spacingAndGlyphs" >LOD Score</text>
</g>
<line x1="1049.30" y1="407.40" x2="1083.10" y2="407.40" stroke="#c99583" stroke-width="1.1" />
<line x1="1049.30" y1="440.40" x2="1083.10" y2="440.40" stroke="#e3da86" stroke-width="1.2" />
<text x="1103.20" y="425.00" font-family='"Liberation Sans", sans-serif' font-size="24.5" font-weight="normal" font-style="normal" text-anchor="start" fill="#000" textLength="39.10" lengthAdjust="spacingAndGlyphs" stroke="#fff" stroke-width="0.35">TRL</text>
<text x="1104.70" y="455.50" font-family='"Liberation Sans", sans-serif' font-size="24.5" font-weight="normal" font-style="normal" text-anchor="start" fill="#000" textLength="25.20" lengthAdjust="spacingAndGlyphs" stroke="#fff" stroke-width="0.35">RS</text>
<text x="880.10" y="678.50" font-family='"Liberation Sans", sans-serif' font-size="24.5" font-weight="normal" font-style="normal" text-anchor="start" fill="#000" textLength="143.90" lengthAdjust="spacingAndGlyphs" stroke="#fff" stroke-width="0.35">Position (Mb)</text>
<g transform="translate(717.3,650.0) scale(1.3,1)">
<text x="0.00" y="0.00" font-family='"Liberation Serif", serif' font-size="10.3" font-weight="normal" font-style="normal" text-anchor="middle" fill="#333" >0</text>
</g>
</svg>
</body></html>
